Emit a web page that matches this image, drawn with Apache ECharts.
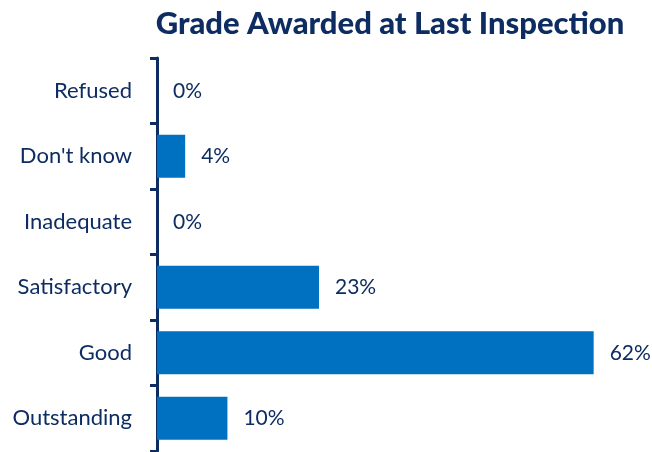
<!DOCTYPE html>
<html>
<head>
<meta charset="utf-8">
<script src="https://cdn.jsdelivr.net/npm/echarts@6/dist/echarts.min.js"></script>
<style>
  html, body { margin: 0; padding: 0; background: #fff; }
  #main { width: 652px; height: 452px; }
</style>
</head>
<body>
<div id="main"></div>
<script>
// grades, top to bottom
var grades = ['Refused', "Don't know", 'Inadequate', 'Satisfactory', 'Good', 'Outstanding'];
var percents = [0, 4, 0, 23, 62, 10];

var navy = '#0d2d62';
var myChart = echarts.init(document.getElementById('main'));

option = {
    title: {
        text: 'Grade Awarded at Last Inspection',
        left: 385,
        textAlign: 'center',
        top: 3,
        textStyle: {
            fontFamily: 'Lato',
            fontWeight: 900,
            fontSize: 31,
            color: navy
        }
    },
    grid: {
        left: 157,
        right: 2,
        top: 58,
        bottom: 1
    },
    xAxis: {
        type: 'value',
        min: 0,
        max: 70,
        show: false
    },
    yAxis: {
        type: 'category',
        inverse: true,
        data: grades,
        axisLine: {
            lineStyle: { color: navy, width: 3 }
        },
        axisTick: {
            show: true,
            alignWithLabel: false,
            length: 7,
            lineStyle: { color: navy, width: 3 }
        },
        axisLabel: {
            margin: 25,
            fontFamily: 'Lato',
            fontSize: 22,
            color: navy
        }
    },
    series: [
        {
            type: 'bar',
            data: percents,
            barWidth: '66%',
            itemStyle: { color: '#0070c0' },
            label: {
                show: true,
                position: 'right',
                distance: 16,
                formatter: '{c}%',
                fontFamily: 'Lato',
                fontSize: 21,
                color: navy
            }
        }
    ]
};
myChart.setOption(option);
</script>
</body>
</html>
